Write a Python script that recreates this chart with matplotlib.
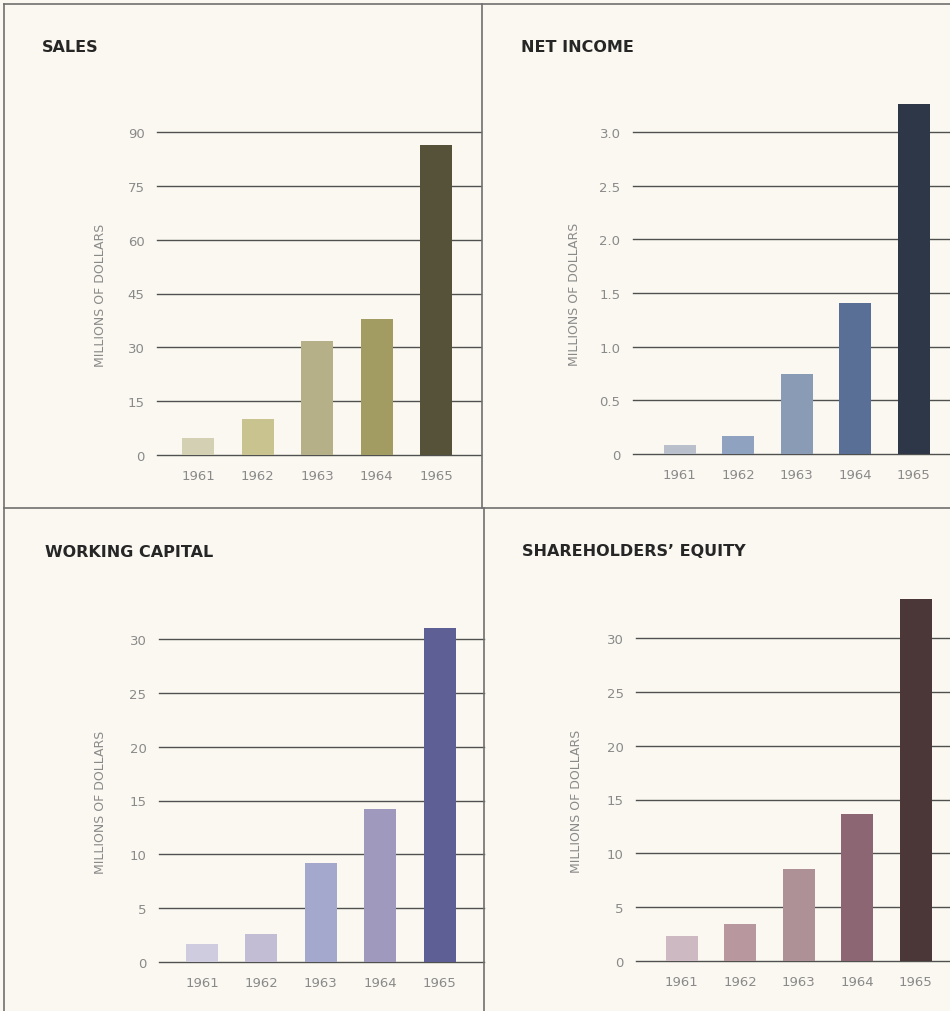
#four panel annual report bar charts, 1961-1965
import matplotlib
matplotlib.use("Agg")
import matplotlib.pyplot as plt
from matplotlib.lines import Line2D

W, H = 950, 1012
BG = '#faf8f0'
GRID = '#505050'
TICK = '#8a8a8a'

years = ['1961', '1962', '1963', '1964', '1965']

sales = [4.7, 10.0, 31.9, 37.9, 86.4]
net_income = [0.08, 0.165, 0.745, 1.41, 3.26]
working_capital = [1.63, 2.63, 9.2, 14.2, 31.0]
equity = [2.32, 3.4, 8.57, 13.65, 33.6]

sales_ticks = [0, 15, 30, 45, 60, 75, 90]
ni_ticks = [0, 0.5, 1.0, 1.5, 2.0, 2.5, 3.0]
ni_ticklabels = ['0', '0.5', '1.0', '1.5', '2.0', '2.5', '3.0']
wc_ticks = [0, 5, 10, 15, 20, 25, 30]
se_ticks = [0, 5, 10, 15, 20, 25, 30]

sales_colors = ['#d3d0b3', '#c9c48f', '#b5b087', '#a29c63', '#56523a']
ni_colors = ['#b9c0cc', '#8fa3c0', '#8a9bb5', '#5a6f95', '#2e3748']
wc_colors = ['#d0cce0', '#c2bcd4', '#a4a8cc', '#9f9abd', '#5e5f95']
se_colors = ['#cdb9c2', '#b8979f', '#ad9197', '#8c6673', '#4b3638']

fig = plt.figure(figsize=(W / 100, H / 100), dpi=100)
fig.patch.set_facecolor(BG)


def panel(title, vals, colors, ticks, ticklabels, title_xy,
          x_left, x_right, first_c, step, y0, ytop, label_x):
    # x_left/x_right: gridline extent (px); y0: zero line px; ytop: top tick px
    top_val = ticks[-1]
    px_per_unit = (y0 - ytop) / top_val
    ax = fig.add_axes([x_left / W, (H - y0) / H, (x_right - x_left) / W, 400 / H])
    ax.set_facecolor('none')
    ax.set_ylim(0, 400 / px_per_unit)
    ax.set_xlim((x_left - first_c) / step, (x_right - first_c) / step)
    for t in ticks:
        ax.axhline(t, color=GRID, lw=1.0, zorder=1, clip_on=False)
    ax.bar(range(len(vals)), vals, width=32 / step, color=colors, zorder=2)
    for s in ax.spines.values():
        s.set_visible(False)
    ax.set_yticks(ticks)
    ax.set_yticklabels(ticklabels)
    ax.set_xticks(range(len(years)))
    ax.set_xticklabels(years)
    ax.tick_params(axis='y', length=0, pad=9, labelsize=9.5, labelcolor=TICK)
    ax.tick_params(axis='x', length=0, pad=10, labelsize=9.5, labelcolor=TICK)
    fig.text(title_xy[0] / W, 1 - title_xy[1] / H, title, fontsize=11.5,
             fontweight='heavy', color='#262626', va='center', ha='left')
    fig.text(label_x / W, 1 - (y0 - 161) / H, 'MILLIONS OF DOLLARS',
             rotation=90, fontsize=9, color=TICK, va='center', ha='center')
    return ax


panel('SALES', sales, sales_colors, sales_ticks, [str(t) for t in sales_ticks],
      (42, 48), 157, 481, 198, 59.6, 456, 133, 100)
panel('NET INCOME', net_income, ni_colors, ni_ticks, ni_ticklabels,
      (521, 48), 633, 960, 679.5, 58.6, 455, 133, 575)
panel('WORKING CAPITAL', working_capital, wc_colors, wc_ticks, [str(t) for t in wc_ticks],
      (45, 553), 159, 484, 202, 59.4, 963, 640, 101)
panel('SHAREHOLDERS\u2019 EQUITY', equity, se_colors, se_ticks, [str(t) for t in se_ticks],
      (522, 552), 636, 960, 681.5, 58.6, 962, 639, 577)

# panel frame lines
def hline(y, x0, x1):
    fig.add_artist(Line2D([x0 / W, x1 / W], [1 - y / H, 1 - y / H],
                          color='#707070', lw=1.2))

def vline(x, y0, y1):
    fig.add_artist(Line2D([x / W, x / W], [1 - y0 / H, 1 - y1 / H],
                          color='#707070', lw=1.2))

hline(5, 4, 950)
hline(509, 4, 950)
vline(4, 5, 1012)
vline(482, 5, 509)
vline(484, 509, 1012)

fig.savefig('out.png', dpi=100, facecolor=BG)
